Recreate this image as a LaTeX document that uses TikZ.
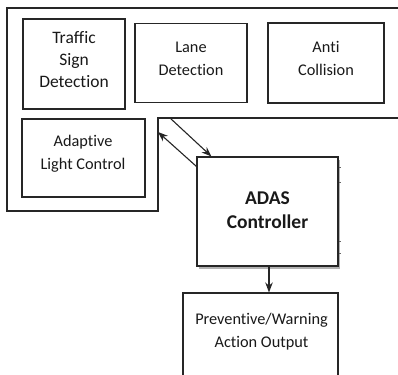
\documentclass[tikz,border=0pt]{standalone}
\usepackage{fontspec}
\setmainfont{Carlito}[Ligatures=CommonOff]
\usetikzlibrary{arrows.meta,shadows,calc}
\begin{document}
\begin{tikzpicture}[x=1pt,y=-1pt,
  box/.style={draw=black!85,line width=1.1pt,fill=white,inner sep=0pt},
  lbl/.style={align=center,font=\fontsize{16.3}{23}\selectfont,text=black!90},
  arr/.style={draw=black!85,line width=1.1pt,-{Stealth[length=10pt,width=7.5pt]}}]
\useasboundingbox (0,0) rectangle (398,374);
\clip (0,0) rectangle (398,374);
% outer frame
\draw[black!85,line width=1.3pt] (405,8) -- (7,8) -- (7,211) -- (158,211) -- (158,118) -- (405,118);
\coordinate (fa) at (170,118);
\coordinate (fb) at (158,132);
% boxes
\node[box,line width=1.7pt,minimum width=102pt,minimum height=90pt] (tsd) at (74,64) {};
\node[lbl,font=\fontsize{17.5}{22}\selectfont] at (74,60) {Traffic\\Sign\\Detection};
\node[box,minimum width=112pt,minimum height=79pt] (lane) at (191,63) {};
\node[lbl] at (191,58.5) {Lane\\Detection};
\node[box,minimum width=116pt,minimum height=80pt] (anti) at (326,63) {};
\node[lbl] at (326,58.5) {Anti\\Collision};
\node[box,minimum width=123pt,minimum height=78pt] (alc) at (83.5,158) {};
\node[lbl] at (83,153.5) {Adaptive\\Light Control};
\node[box,minimum width=141pt,minimum height=109pt,drop shadow={shadow xshift=2pt,shadow yshift=-3pt,fill=black!30,opacity=1}] (adas) at (267.5,211.5) {};
\node[lbl,font=\bfseries\fontsize{19.5}{24}\selectfont] at (267.5,210) {ADAS\\Controller};
\node[box,minimum width=155pt,minimum height=110pt] (prev) at (260.5,348) {};
\node[lbl] at (261.5,331.5) {Preventive/Warning\\Action Output};
% small ticks on controller edge
\foreach \yy in {11,26,85,97} \draw[black!60,line width=0.6pt] ($(adas.north east)+(0,\yy)$) -- ++(2,0);
% connectors
\draw[arr] (fa) -- ($(adas.north west)+(15,0)$);
\draw[arr] ($(adas.north west)+(0,10)$) -- (fb);
\draw[arr] ($(adas.south)+(1.5,0)$) -- ($(adas.south |- prev.north)+(1.5,0)$);
\end{tikzpicture}
\end{document}
